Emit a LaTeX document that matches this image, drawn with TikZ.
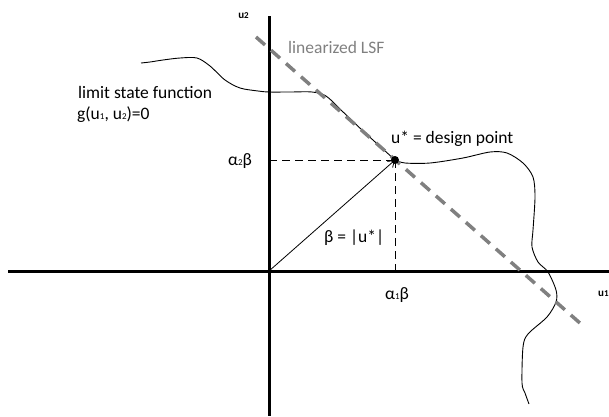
\documentclass[tikz,border=0pt]{standalone}
\usepackage{fontspec}
\setmainfont{Carlito}
\usetikzlibrary{arrows.meta}
\newcommand{\lsub}[1]{\raisebox{-0.1ex}{\fontsize{9}{9}\selectfont #1}}
\definecolor{lsfgray}{RGB}{128,128,128}
\tikzset{
  axis/.style={line width=3pt, black},
  lsf/.style={line width=0.9pt, black},
  linlsf/.style={line width=3.5pt, lsfgray, dash pattern=on 12pt off 8pt},
  helper/.style={line width=1pt, black, dash pattern=on 8pt off 5pt},
  lbl/.style={font=\fontsize{17.5}{20}\selectfont, inner sep=0pt, text=black},
  axlbl/.style={font=\fontsize{11}{12}\selectfont\bfseries, inner sep=0pt},
}
\begin{document}
\begin{tikzpicture}[x=1pt,y=-1pt]
\useasboundingbox (0,0) rectangle (609,416);
% axes
\coordinate (xl) at (8,271);
\coordinate (xr) at (609,271);
\coordinate (yt) at (269,16);
\coordinate (yb) at (269,416);
\coordinate (O) at (269,271);
\draw[axis] (xl) -- (xr);
\draw[axis] (yt) -- (yb);
\node[axlbl, anchor=east] (u2) at (249,16) {u\lsub{2}};
\node[axlbl, anchor=west] (u1) at (598,294) {u\lsub{1}};
% design point
\coordinate (D) at (395,160);
\coordinate (Dy) at (269,160);
\coordinate (Dx) at (395,271);
\draw[helper] (Dy) -- (D);
\draw[helper] (D) -- (Dx);
% limit state curve
\draw[lsf] plot[smooth, tension=0.5] coordinates {
 (141,63) (150,62) (163,60) (180,58) (197,58) (210,66) (225,80) (240,88) (258,91) (269,92) (290,92) (312,92) (326,96)
 (341,110) (362,130) (384,150) (395,160)};
\draw[lsf] plot[smooth, tension=0.5] coordinates {
 (395,160) (405,163) (430,163) (463,158) (490,152) (507,153) (523,163) (533,177) (535,197) (533,230) (532,247)
 (538,262) (548,272) (556,290) (556,302) (547,317) (528,334) (523,347) (522,383) (525,393) (529,404)};
% linearized LSF
\coordinate (La) at (256,37);
\coordinate (Lb) at (581,324);
\draw[linlsf] (La) -- (Lb);
% vector to design point
\draw[line width=0.8pt, -{Straight Barb[length=6pt,width=8pt]}] (O) -- (D);
\fill (D) circle (4pt);
% labels
\node[lbl, text=lsfgray, anchor=base west] (linlbl) at (288,53) {linearized LSF};
\node[lbl, anchor=base west] (lsflbl) at (78,98) {limit state function};
\node[lbl, anchor=base west] (glbl) at (77,119) {g(u\lsub{1}, u\lsub{2})=0};
\node[lbl, anchor=base west] (dplbl) at (391,143) {u* = design point};
\node[lbl, anchor=base] (a2) at (240,165) {α\lsub{2}β};
\node[lbl, anchor=base] (a1) at (397,299) {α\lsub{1}β};
\node[lbl, anchor=base west] (blbl) at (324,242) {β = |u*|};
\end{tikzpicture}
\end{document}
